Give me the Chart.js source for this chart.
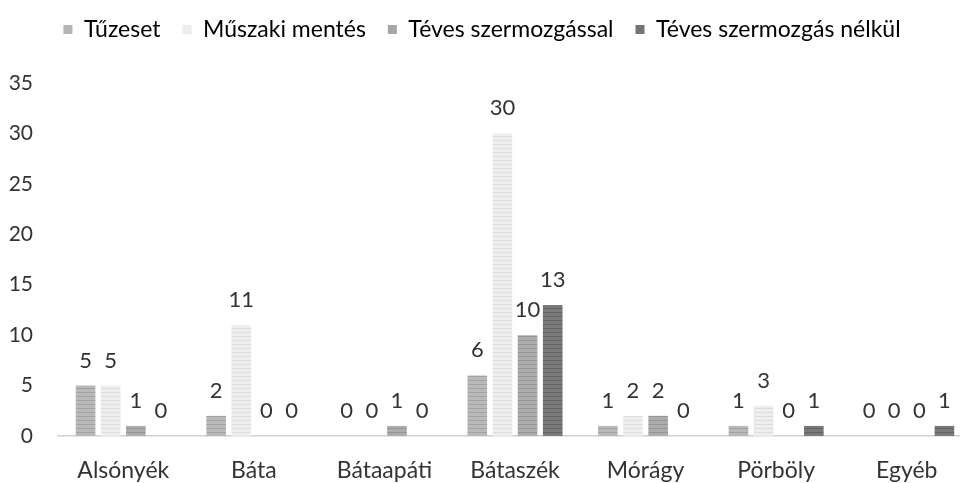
<!DOCTYPE html>
<html>
<head>
<meta charset="utf-8">
<script src="https://cdn.jsdelivr.net/npm/chart.js@4"></script>
<style>
  html, body { margin: 0; padding: 0; background: #fff; overflow: hidden; }
  #wrap { width: 960px; height: 483px; }
</style>
</head>
<body>
<div id="wrap"><canvas id="chart"></canvas></div>
<script>
const categories = ["Alsónyék", "Báta", "Bátaapáti", "Bátaszék", "Mórágy", "Pörböly", "Egyéb"];
const seriesNames = ["Tűzeset", "Műszaki mentés", "Téves szermozgással", "Téves szermozgás nélkül"];
const tuzeset = [5, 2, 0, 6, 1, 1, 0];
const muszaki = [5, 11, 0, 30, 2, 3, 0];
const tevesVel = [1, 0, 1, 10, 2, 0, 0];
const tevesNelkul = [0, 0, 0, 13, 0, 1, 1];
const yTicks = [0, 5, 10, 15, 20, 25, 30, 35];

const FONT = "Lato, 'Open Sans', sans-serif";

// striped fill like the scanned picture
function stripes(base, line) {
  const c = document.createElement("canvas");
  c.width = 6; c.height = 4;
  const g = c.getContext("2d");
  g.fillStyle = base; g.fillRect(0, 0, 6, 4);
  g.fillStyle = line; g.fillRect(0, 0, 6, 1);
  return g.createPattern(c, "repeat");
}
const fills = [
  stripes("#b9b9b9", "#a2a2a2"),
  stripes("#eeeeee", "#dedede"),
  stripes("#acacac", "#959595"),
  stripes("#7a7a7a", "#636363")
];
const legendColors = ["#b4b4b4", "#ececec", "#a6a6a6", "#747474"];

const valueLabels = {
  id: "valueLabels",
  afterDatasetsDraw(chart) {
    const ctx = chart.ctx;
    ctx.save();
    ctx.font = "22px " + FONT;
    ctx.fillStyle = "#333";
    ctx.textAlign = "center";
    ctx.textBaseline = "alphabetic";
    chart.data.datasets.forEach((ds, i) => {
      chart.getDatasetMeta(i).data.forEach((bar, j) => {
        ctx.fillText(ds.data[j], bar.x, bar.y - 18);
      });
    });
    ctx.restore();
  }
};

// extra room under the legend
const legendGap = {
  id: "legendGap",
  beforeInit(chart) {
    const fit = chart.legend.fit;
    chart.legend.fit = function () {
      fit.bind(chart.legend)();
      this.height += 32;
    };
  }
};

// the original's category axis runs a little past the right edge
const widenX = {
  id: "widenX",
  afterLayout(chart) {
    const x = chart.scales.x;
    x.right += 12;
    x.width += 12;
    x.configure();
  }
};

const dataSets = [tuzeset, muszaki, tevesVel, tevesNelkul].map((d, i) => ({
  label: seriesNames[i],
  data: d,
  backgroundColor: fills[i],
  borderWidth: 0,
  categoryPercentage: 0.77,
  barPercentage: 0.78
}));

new Chart(document.getElementById("chart"), {
  type: "bar",
  data: { labels: categories, datasets: dataSets },
  plugins: [valueLabels, legendGap, widenX],
  options: {
    responsive: true,
    maintainAspectRatio: false,
    animation: false,
    layout: { padding: { left: 4, right: 0, top: -4, bottom: 0 } },
    plugins: {
      tooltip: { enabled: false },
      legend: {
        position: "top",
        labels: {
          boxWidth: 9,
          boxHeight: 9,
          padding: 22,
          color: "#333",
          font: { family: FONT, size: 23 },
          generateLabels(chart) {
            return seriesNames.map((n, i) => ({
              text: n,
              fillStyle: legendColors[i],
              strokeStyle: legendColors[i],
              lineWidth: 0,
              datasetIndex: i
            }));
          }
        }
      }
    },
    scales: {
      x: {
        grid: { display: false, drawTicks: false },
        border: { color: "#d0d0d0", width: 1.5 },
        afterFit(axis) { axis.height = 47; },
        ticks: { color: "#333", padding: 21, font: { family: FONT, size: 23 } }
      },
      y: {
        min: 0,
        max: 35,
        afterBuildTicks(axis) { axis.ticks = yTicks.map(v => ({ value: v })); },
        afterFit(axis) { axis.width = 54; },
        grid: { display: false, drawTicks: false },
        border: { display: false },
        ticks: { color: "#333", padding: 25, font: { family: FONT, size: 21 } }
      }
    }
  }
});
</script>
</body>
</html>
